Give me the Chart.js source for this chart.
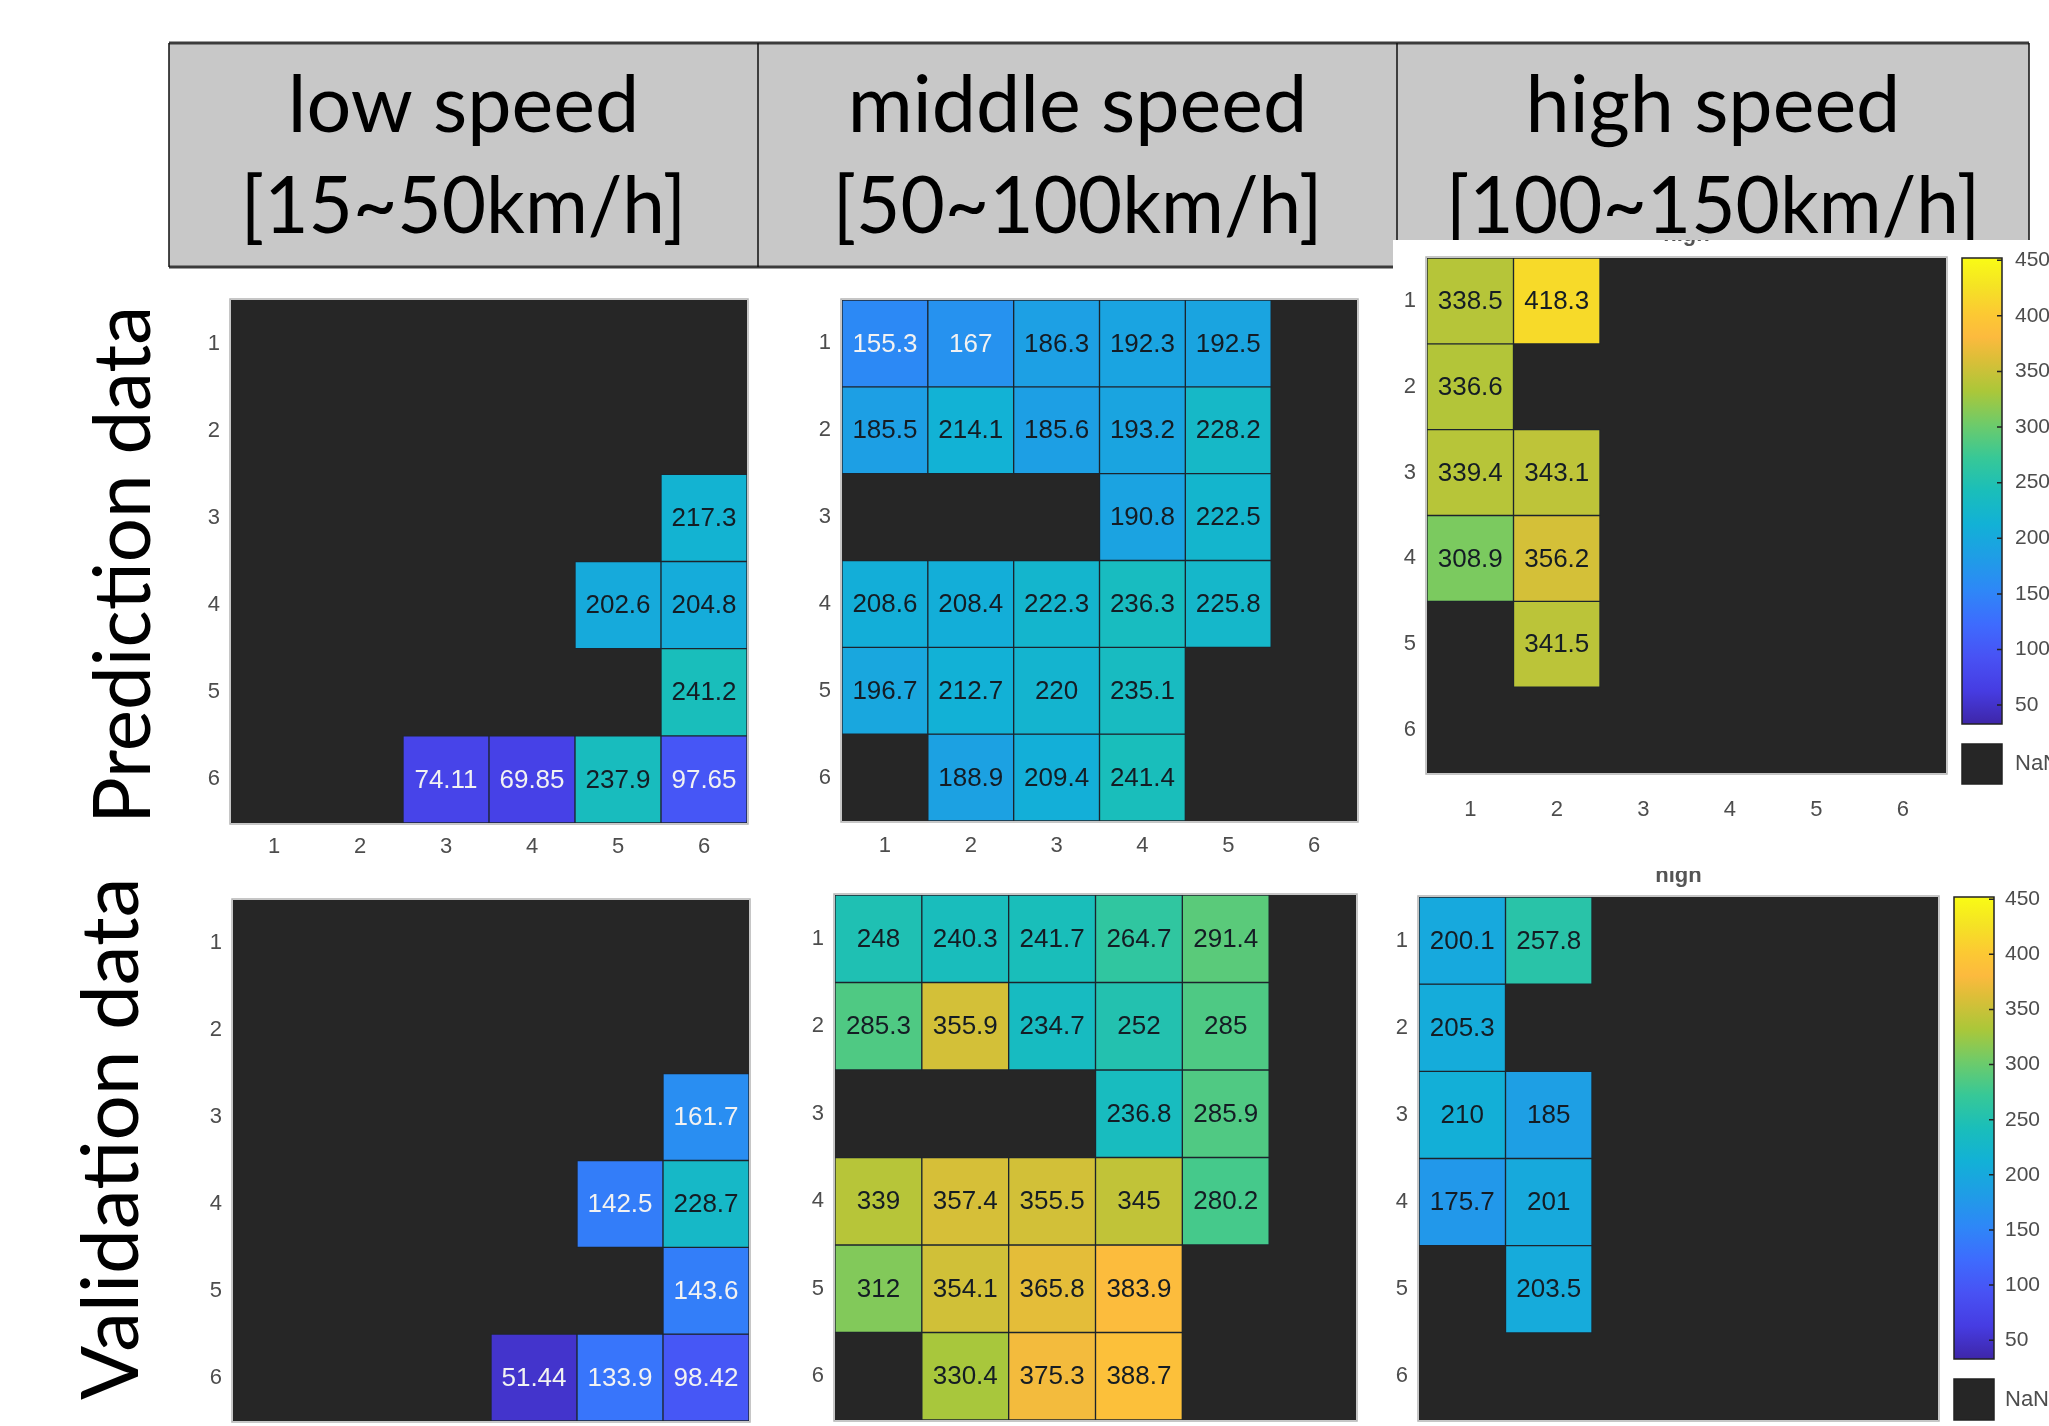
<!DOCTYPE html>
<html>
<head>
<meta charset="utf-8">
<script src="https://cdn.jsdelivr.net/npm/chart.js@4.4.1/dist/chart.umd.min.js"></script>
<style>
  html, body { margin: 0; padding: 0; background: #fff; }
  #page { position: relative; width: 2049px; height: 1426px; overflow: hidden; background: #fff; }
  .box { position: absolute; }
</style>
</head>
<body>
<div id="page"></div>
<script>
// ---- data ----
var colTicks = ['1', '2', '3', '4', '5', '6'];
var rowTicks = [1, 2, 3, 4, 5, 6];
var cbTicks = [50, 100, 150, 200, 250, 300, 350, 400, 450];
var cLim = [33, 452];

var speedTitles = [['low speed', '[15~50km/h]'], ['middle speed', '[50~100km/h]'], ['high speed', '[100~150km/h]']];
var rowTitles = ['Prediction data', 'Validation data'];

var predLow = [
  [null, null, null, null, null, null],
  [null, null, null, null, null, null],
  [null, null, null, null, null, 217.3],
  [null, null, null, null, 202.6, 204.8],
  [null, null, null, null, null, 241.2],
  [null, null, 74.11, 69.85, 237.9, 97.65]
];
var predMid = [
  [155.3, 167, 186.3, 192.3, 192.5, null],
  [185.5, 214.1, 185.6, 193.2, 228.2, null],
  [null, null, null, 190.8, 222.5, null],
  [208.6, 208.4, 222.3, 236.3, 225.8, null],
  [196.7, 212.7, 220, 235.1, null, null],
  [null, 188.9, 209.4, 241.4, null, null]
];
var predHigh = [
  [338.5, 418.3, null, null, null, null],
  [336.6, null, null, null, null, null],
  [339.4, 343.1, null, null, null, null],
  [308.9, 356.2, null, null, null, null],
  [null, 341.5, null, null, null, null],
  [null, null, null, null, null, null]
];
var valLow = [
  [null, null, null, null, null, null],
  [null, null, null, null, null, null],
  [null, null, null, null, null, 161.7],
  [null, null, null, null, 142.5, 228.7],
  [null, null, null, null, null, 143.6],
  [null, null, null, 51.44, 133.9, 98.42]
];
var valMid = [
  [248, 240.3, 241.7, 264.7, 291.4, null],
  [285.3, 355.9, 234.7, 252, 285, null],
  [null, null, null, 236.8, 285.9, null],
  [339, 357.4, 355.5, 345, 280.2, null],
  [312, 354.1, 365.8, 383.9, null, null],
  [null, 330.4, 375.3, 388.7, null, null]
];
var valHigh = [
  [200.1, 257.8, null, null, null, null],
  [205.3, null, null, null, null, null],
  [210, 185, null, null, null, null],
  [175.7, 201, null, null, null, null],
  [null, 203.5, null, null, null, null],
  [null, null, null, null, null, null]
];

// parula colormap stops (t, r, g, b)
var parulaStops = [
  [0.000, 0.2422, 0.1504, 0.6603],
  [0.071, 0.2740, 0.2350, 0.8880],
  [0.143, 0.2810, 0.3228, 0.9579],
  [0.214, 0.2450, 0.4200, 0.9950],
  [0.286, 0.1786, 0.5289, 0.9682],
  [0.357, 0.1200, 0.6170, 0.9000],
  [0.429, 0.0689, 0.6948, 0.8394],
  [0.500, 0.1000, 0.7460, 0.7280],
  [0.571, 0.2161, 0.7843, 0.5923],
  [0.643, 0.4300, 0.7950, 0.4150],
  [0.714, 0.6720, 0.7793, 0.2227],
  [0.786, 0.8700, 0.7450, 0.2200],
  [0.830, 0.9900, 0.7300, 0.2450],
  [0.880, 0.9900, 0.7900, 0.2000],
  [0.940, 0.9600, 0.8900, 0.1400],
  [1.000, 0.9769, 0.9839, 0.0805]
];

function rgbOf(r, g, b) {
  return 'rgb(' + Math.round(r * 255) + ',' + Math.round(g * 255) + ',' + Math.round(b * 255) + ')';
}
function parula(v) {
  var t = (v - cLim[0]) / (cLim[1] - cLim[0]);
  t = Math.max(0, Math.min(1, t));
  for (var i = 1; i < parulaStops.length; i++) {
    var a = parulaStops[i - 1], b = parulaStops[i];
    if (t <= b[0]) {
      var f = (t - a[0]) / (b[0] - a[0]);
      return rgbOf(a[1] + (b[1] - a[1]) * f, a[2] + (b[2] - a[2]) * f, a[3] + (b[3] - a[3]) * f);
    }
  }
  var l = parulaStops[parulaStops.length - 1];
  return rgbOf(l[1], l[2], l[3]);
}

var page = document.getElementById('page');
var NAN_COLOR = '#262626';
var TICK_FONT = { family: 'Liberation Sans', size: 22 };

function addBox(x, y, w, h, z) {
  var div = document.createElement('div');
  div.className = 'box';
  div.style.left = x + 'px';
  div.style.top = y + 'px';
  div.style.width = w + 'px';
  div.style.height = h + 'px';
  div.style.zIndex = z;
  var cv = document.createElement('canvas');
  div.appendChild(cv);
  page.appendChild(div);
  return cv;
}

// ---- background: header table + row titles ----
var headerPlugin = {
  id: 'header',
  afterDraw: function (chart) {
    var ctx = chart.ctx;
    var x0 = 169, x1 = 2029, y0 = 43, y1 = 267;
    var cols = [169, 758, 1397, 2029];
    ctx.save();
    ctx.fillStyle = '#c8c8c8';
    ctx.fillRect(x0, y0, x1 - x0, y1 - y0);
    ctx.strokeStyle = '#3c3c3c';
    ctx.lineWidth = 3;
    ctx.beginPath();
    ctx.moveTo(x0, y0); ctx.lineTo(x1, y0);
    ctx.moveTo(x0, y1); ctx.lineTo(x1, y1);
    ctx.stroke();
    ctx.strokeStyle = '#111';
    ctx.lineWidth = 1.5;
    ctx.beginPath();
    cols.forEach(function (c) { ctx.moveTo(c, y0); ctx.lineTo(c, y1); });
    ctx.stroke();

    ctx.fillStyle = '#000';
    ctx.font = '80px Lato';
    ctx.textAlign = 'center';
    ctx.textBaseline = 'alphabetic';
    speedTitles.forEach(function (t, i) {
      var cx = (cols[i] + cols[i + 1]) / 2;
      ctx.fillText(t[0], cx, 132, ctx.measureText(t[0]).width * 0.988);
      ctx.fillText(t[1], cx, 233, ctx.measureText(t[1]).width * 0.956);
    });

    // rotated row titles
    ctx.textAlign = 'left';
    var rt = [[150, 824, 518], [138, 1400, 526]];
    rowTitles.forEach(function (t, i) {
      ctx.save();
      ctx.translate(rt[i][0], rt[i][1]);
      ctx.rotate(-Math.PI / 2);
      ctx.fillText(t, 0, 0, rt[i][2]);
      ctx.restore();
    });
    ctx.restore();
  }
};

new Chart(addBox(0, 0, 2049, 1426, 0), {
  type: 'bar',
  data: { labels: [], datasets: [] },
  options: {
    responsive: true, maintainAspectRatio: false, animation: false,
    plugins: { legend: { display: false }, tooltip: { enabled: false } },
    scales: { x: { display: false }, y: { display: false } }
  },
  plugins: [headerPlugin]
});

// ---- heatmap cells ----
var cellPlugin = {
  id: 'cells',
  beforeDraw: function (chart, args, o) {
    var ctx = chart.ctx, a = chart.chartArea;
    ctx.save();
    if (o.bg) {
      ctx.fillStyle = '#fff';
      ctx.fillRect(0, 0, chart.width, chart.height);
    }
    ctx.fillStyle = NAN_COLOR;
    ctx.fillRect(a.left, a.top, a.right - a.left, a.bottom - a.top);
    ctx.restore();
  },
  afterDatasetsDraw: function (chart, args, o) {
    var ctx = chart.ctx, a = chart.chartArea;
    ctx.save();
    ctx.font = '26px "Liberation Sans"';
    ctx.textAlign = 'center';
    ctx.textBaseline = 'middle';
    o.values.forEach(function (row, r) {
      var meta = chart.getDatasetMeta(r);
      row.forEach(function (v, c) {
        if (v == null) return;
        var p = meta.data[c].getCenterPoint();
        ctx.fillStyle = v < 170 ? '#f2f2f2' : '#141c24';
        ctx.fillText(String(v), p.x, p.y + 1);
      });
    });
    ctx.strokeStyle = '#b4b4b4';
    ctx.lineWidth = 1.5;
    ctx.strokeRect(a.left - 1, a.top - 1, a.right - a.left + 2, a.bottom - a.top + 2);
    if (o.title) {
      ctx.fillStyle = '#555';
      ctx.font = 'bold 22px "Liberation Sans"';
      ctx.textBaseline = 'alphabetic';
      ctx.fillText(o.title, (a.left + a.right) / 2, a.top - o.titleOff);
    }
    ctx.restore();
  }
};

function noEdgePad(s) {
  s.paddingTop = 0; s.paddingBottom = 0; s.paddingLeft = 0; s.paddingRight = 0;
}

function makeHeatmap(p) {
  var cv = addBox(p.box[0], p.box[1], p.box[2], p.box[3], p.z);
  var datasets = p.values.map(function (row, r) {
    return {
      data: row.map(function (v) { return v == null ? null : [rowTicks[r] - 0.5, rowTicks[r] + 0.5]; }),
      backgroundColor: row.map(function (v) { return v == null ? 'rgba(0,0,0,0)' : parula(v); }),
      borderColor: '#1c252e',
      borderWidth: 1,
      borderSkipped: false,
      barPercentage: 1,
      categoryPercentage: 1,
      grouped: false
    };
  });
  new Chart(cv, {
    type: 'bar',
    data: { labels: colTicks, datasets: datasets },
    options: {
      responsive: true, maintainAspectRatio: false, animation: false,
      layout: { padding: p.pad },
      plugins: {
        legend: { display: false }, tooltip: { enabled: false },
        cells: { values: p.values, title: p.title, titleOff: p.titleOff, bg: p.bg }
      },
      scales: {
        x: {
          display: p.showX,
          grid: { display: false, drawTicks: false }, border: { display: false },
          ticks: { font: TICK_FONT, color: '#4d4d4d', padding: p.xPad },
          afterFit: function (s) { s.height = p.showX ? p.xH : 0; noEdgePad(s); }
        },
        y: {
          min: 0.5, max: 6.5, reverse: true,
          grid: { display: false, drawTicks: false }, border: { display: false },
          afterBuildTicks: function (s) { s.ticks = rowTicks.map(function (v) { return { value: v }; }); },
          afterFit: function (s) { s.width = 30; noEdgePad(s); },
          ticks: { font: TICK_FONT, color: '#4d4d4d', padding: 11, callback: function (v) { return String(v); } }
        }
      }
    },
    plugins: [cellPlugin]
  });
}

// ---- colorbar ----
var cbPlugin = {
  id: 'cbar',
  afterDraw: function (chart, args, o) {
    var ctx = chart.ctx, a = chart.chartArea, ys = chart.scales.y;
    ctx.save();
    ctx.strokeStyle = '#222';
    ctx.lineWidth = 1.5;
    ctx.beginPath();
    cbTicks.forEach(function (t) {
      var y = ys.getPixelForValue(t);
      ctx.moveTo(a.right - 5, y); ctx.lineTo(a.right, y);
    });
    ctx.stroke();
    ctx.strokeRect(a.left, a.top, a.right - a.left, a.bottom - a.top);
    var ny = a.bottom + o.gap;
    ctx.fillStyle = NAN_COLOR;
    ctx.fillRect(a.left, ny, a.right - a.left, o.nanH);
    ctx.strokeRect(a.left, ny, a.right - a.left, o.nanH);
    ctx.fillStyle = '#4d4d4d';
    ctx.font = '22px "Liberation Sans"';
    ctx.textAlign = 'left';
    ctx.textBaseline = 'middle';
    ctx.fillText('NaN', a.right + o.labelPad, ny + o.nanH / 2);
    ctx.restore();
  }
};

function makeColorbar(p) {
  var cv = addBox(p.box[0], p.box[1], p.box[2], p.box[3], p.z);
  new Chart(cv, {
    type: 'bar',
    data: {
      labels: ['cb'],
      datasets: [{
        data: [cLim],
        barPercentage: 1, categoryPercentage: 1, borderWidth: 0,
        backgroundColor: function (c) {
          var ch = c.chart;
          if (!ch.chartArea) return '#888';
          var ys = ch.scales.y;
          var g = ch.ctx.createLinearGradient(0, ys.getPixelForValue(cLim[0]), 0, ys.getPixelForValue(cLim[1]));
          parulaStops.forEach(function (s) { g.addColorStop(s[0], rgbOf(s[1], s[2], s[3])); });
          return g;
        }
      }]
    },
    options: {
      responsive: true, maintainAspectRatio: false, animation: false,
      layout: { padding: p.pad },
      plugins: {
        legend: { display: false }, tooltip: { enabled: false },
        cbar: { gap: p.gap, nanH: p.nanH, labelPad: p.labelPad }
      },
      scales: {
        x: { display: false, afterFit: function (s) { s.height = 0; } },
        y: {
          position: 'right', min: cLim[0], max: cLim[1],
          grid: { display: false, drawTicks: false }, border: { display: false },
          afterBuildTicks: function (s) { s.ticks = cbTicks.map(function (v) { return { value: v }; }); },
          afterFit: function (s) { s.width = p.axisW; noEdgePad(s); },
          ticks: { font: { family: 'Liberation Sans', size: 21 }, color: '#4d4d4d', padding: p.labelPad }
        }
      }
    },
    plugins: [cbPlugin]
  });
}

// bottom row (below top row in stacking)
makeHeatmap({ values: valLow, box: [150, 872, 630, 554], z: 1, pad: { left: 53, top: 28, right: 31, bottom: 5 }, showX: false });
makeHeatmap({ values: valMid, box: [785, 872, 608, 554], z: 1, pad: { left: 20, top: 23, right: 37, bottom: 6 }, showX: false });
makeHeatmap({ values: valHigh, box: [1380, 850, 669, 576], z: 1, pad: { left: 9, top: 47, right: 111, bottom: 6 }, showX: false, title: 'high', titleOff: 15 });
makeColorbar({ box: [1944, 885, 105, 541], z: 1, pad: { left: 10, top: 12, right: 0, bottom: 67 }, axisW: 55, gap: 20, nanH: 41, labelPad: 11 });

// top row
makeHeatmap({ values: predLow, box: [150, 272, 630, 598], z: 2, pad: { left: 51, top: 28, right: 33, bottom: 7 }, showX: true, xPad: 11, xH: 40 });
makeHeatmap({ values: predMid, box: [785, 272, 608, 599], z: 2, pad: { left: 27, top: 28, right: 36, bottom: 10 }, showX: true, xPad: 12, xH: 40, bg: true });
makeHeatmap({ values: predHigh, box: [1393, 240, 656, 631], z: 2, pad: { left: 4, top: 18, right: 103, bottom: 38 }, showX: true, xPad: 24, xH: 60, bg: true, title: 'high', titleOff: 17 });
makeColorbar({ box: [1950, 245, 99, 560], z: 3, pad: { left: 12, top: 13, right: 0, bottom: 81 }, axisW: 47, gap: 20, nanH: 40, labelPad: 13 });
</script>
</body>
</html>
